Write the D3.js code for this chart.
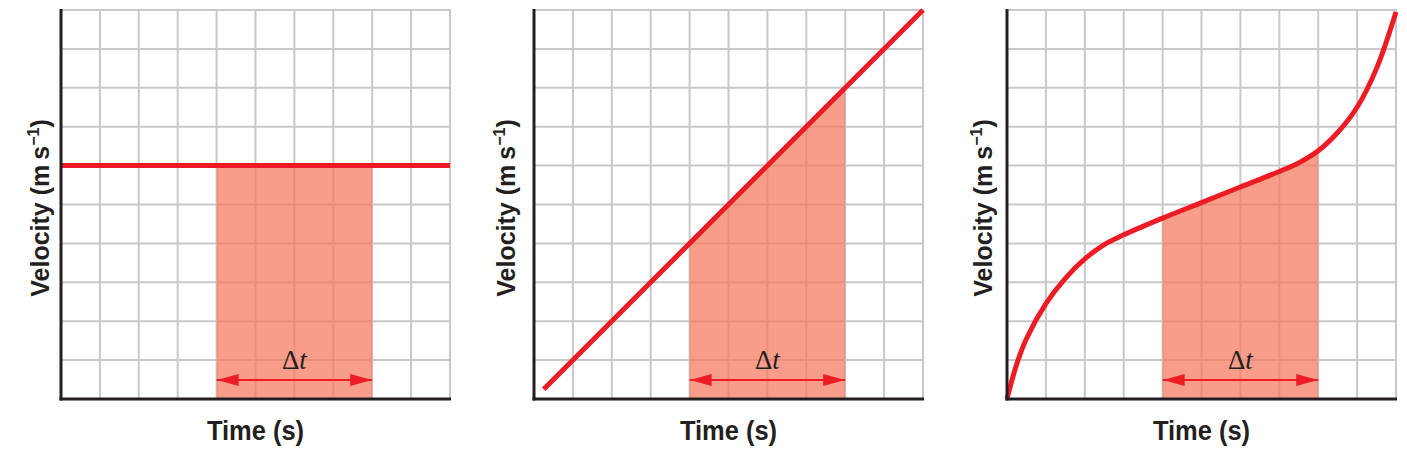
<!DOCTYPE html>
<html>
<head>
<meta charset="utf-8">
<script src="https://cdn.jsdelivr.net/npm/d3@7"></script>
<style>
  body { margin: 0; background: #fff; }
  .lbl { font-family: 'Liberation Sans', Arial, sans-serif; font-weight: bold; fill: #231f20; }
  .dt { font-family: 'Liberation Serif', 'DejaVu Serif', serif; fill: #231f20; }
</style>
</head>
<body>
<div id="chart"></div>
<script>
// grid divisions (both axes run 0..10)
var gridTicks = [1, 2, 3, 4, 5, 6, 7, 8, 9, 10];

// panel 1: constant velocity
var constT = [0, 10];
var constV = [6, 6];

// panel 2: uniform acceleration
var linT = [0.25, 10];
var linV = [0.25, 10];

// panel 3: changing acceleration
var curveT = [0, 0.25, 0.5, 1, 1.5, 2, 2.5, 3, 4, 5, 6, 7, 7.5, 8, 8.5, 9, 9.5, 10];
var curveV = [0, 0.9, 1.55, 2.45, 3.1, 3.6, 3.97, 4.22, 4.65, 5.05, 5.45, 5.85, 6.07, 6.38, 6.85, 7.5, 8.5, 9.95];

// shaded interval Δt
var shadeT = [4, 8];

var panels = [
  {t: constT, v: constV, left: 61, labelX: 49},
  {t: linT, v: linV, left: 534, labelX: 515},
  {t: curveT, v: curveV, left: 1007, labelX: 992}
];

var W = 1407, H = 451;
var plotTop = 10, plotW = 389, plotH = 389;
var red = "#ed1c24";

var svg = d3.select("#chart").append("svg")
    .attr("width", W)
    .attr("height", H);

var defs = svg.append("defs");
defs.append("marker")
    .attr("id", "head")
    .attr("viewBox", "0 0 22 12")
    .attr("refX", 22).attr("refY", 6)
    .attr("markerWidth", 22).attr("markerHeight", 12)
    .attr("markerUnits", "userSpaceOnUse")
    .attr("orient", "auto-start-reverse")
  .append("path")
    .attr("d", "M0,0L22,6L0,12Z")
    .attr("fill", red);

panels.forEach(function(p) {
  var x = d3.scaleLinear().domain([0, 10]).range([0, plotW]);
  var y = d3.scaleLinear().domain([0, 10]).range([plotH, 0]);

  var g = svg.append("g")
      .attr("transform", "translate(" + p.left + "," + plotTop + ")");

  // grid
  g.append("g").selectAll("line")
    .data(gridTicks).enter().append("line")
      .attr("x1", function(d) { return x(d); })
      .attr("x2", function(d) { return x(d); })
      .attr("y1", y(10) - 1).attr("y2", y(0))
      .attr("stroke", "#c8c8c8").attr("stroke-width", 2);
  g.append("g").selectAll("line")
    .data(gridTicks).enter().append("line")
      .attr("y1", function(d) { return y(d); })
      .attr("y2", function(d) { return y(d); })
      .attr("x1", x(0)).attr("x2", x(10) + 1)
      .attr("stroke", "#c8c8c8").attr("stroke-width", 2);

  // shaded area under the line between shadeT
  var pts = p.t.map(function(t, i) { return [t, p.v[i]]; });
  var lineGen = d3.line()
      .x(function(d) { return x(d[0]); })
      .y(function(d) { return y(d[1]); })
      .curve(d3.curveCatmullRom.alpha(0.5));

  var clipId = "clip" + p.left;
  defs.append("clipPath").attr("id", clipId)
    .append("rect")
      .attr("x", x(shadeT[0])).attr("y", -plotTop)
      .attr("width", x(shadeT[1]) - x(shadeT[0])).attr("height", H);

  var areaGen = d3.area()
      .x(function(d) { return x(d[0]); })
      .y0(y(0))
      .y1(function(d) { return y(d[1]); })
      .curve(d3.curveCatmullRom.alpha(0.5));

  g.append("path")
      .attr("clip-path", "url(#" + clipId + ")")
      .datum(pts)
      .attr("d", areaGen)
      .attr("fill", "rgb(244,121,95)")
      .attr("fill-opacity", 0.73);

  // Δt arrow
  g.append("line")
      .attr("x1", x(shadeT[0])).attr("x2", x(shadeT[1]))
      .attr("y1", y(0) - 19).attr("y2", y(0) - 19)
      .attr("stroke", red).attr("stroke-width", 2)
      .attr("marker-start", "url(#head)")
      .attr("marker-end", "url(#head)");

  var dt = g.append("text")
      .attr("class", "dt")
      .attr("x", (x(shadeT[0]) + x(shadeT[1])) / 2)
      .attr("y", y(0) - 30)
      .attr("text-anchor", "middle")
      .style("font-size", "27px");
  dt.append("tspan").text("Δ");
  dt.append("tspan").style("font-style", "italic").text("t");

  // the velocity line
  g.append("path")
      .datum(pts)
      .attr("d", lineGen)
      .attr("fill", "none")
      .attr("stroke", red)
      .attr("stroke-width", 5);

  // axes
  g.append("line")
      .attr("x1", x(0)).attr("x2", x(0))
      .attr("y1", y(10) - 1).attr("y2", y(0) + 1.5)
      .attr("stroke", "#231f20").attr("stroke-width", 3);
  g.append("line")
      .attr("x1", x(0) - 1.5).attr("x2", x(10) + 1)
      .attr("y1", y(0)).attr("y2", y(0))
      .attr("stroke", "#231f20").attr("stroke-width", 3);

  // labels
  g.append("text")
      .attr("class", "lbl")
      .attr("transform", "translate(" + (plotW / 2) + "," + (plotH + 41) + ") scale(0.91,1)")
      .attr("text-anchor", "middle")
      .style("font-size", "28px")
      .text("Time (s)");

  var yl = svg.append("text")
      .attr("class", "lbl")
      .attr("transform", "translate(" + p.labelX + "," + (plotTop + 198) + ") rotate(-90)")
      .attr("text-anchor", "middle")
      .style("font-size", "25px");
  yl.append("tspan").text("Velocity (m\u2009s");
  yl.append("tspan").attr("dy", -10).style("font-size", "16px").text("−1");
  yl.append("tspan").attr("dy", 10).text(")");
});
</script>
</body>
</html>
